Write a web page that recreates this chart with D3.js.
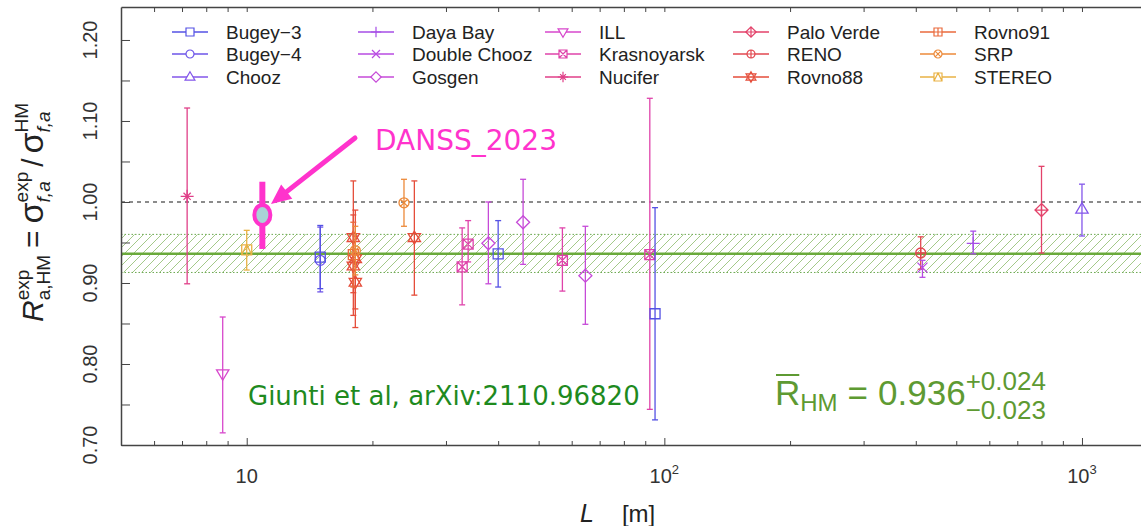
<!DOCTYPE html>
<html>
<head>
<meta charset="utf-8">
<script src="https://cdn.jsdelivr.net/npm/d3@7"></script>
<style>
  body { margin: 0; background: #fff; }
  svg { display: block; font-family: "Liberation Sans", Arial, sans-serif; }
</style>
</head>
<body>
<svg id="chart" width="1141" height="526"></svg>
<script>
// experiments, in legend order (3 rows x 5 columns)
const experiments = ["Bugey-3", "Bugey-4", "Chooz", "Daya Bay", "Double Chooz", "Gosgen", "ILL", "Krasnoyarsk",
	"Nucifer", "Palo Verde", "RENO", "Rovno88", "Rovno91", "SRP", "STEREO"];
const legendLabels = ["Bugey\u22123", "Bugey\u22124", "Chooz", "Daya Bay", "Double Chooz", "Gosgen", "ILL", "Krasnoyarsk",
	"Nucifer", "Palo Verde", "RENO", "Rovno88", "Rovno91", "SRP", "STEREO"];
const expColors = ["#5552e4", "#6d55e8", "#8356ea", "#a64ee6", "#b84be2", "#c64ad8", "#d747cc", "#df43aa",
	"#e03f88", "#e3426a", "#e2474f", "#e54d3a", "#ea6a3c", "#ec8a3a", "#e9b244"];
const expShapes = ["square", "circle", "triUp", "plus", "cross", "diamond", "triDown", "squareX",
	"asterisk", "diamondPlus", "circlePlus", "star", "squarePlus", "circleX", "squareTri"];

// measured points: experiment, baseline L [m], ratio, lower / upper end of error bar
const pointExp = ["Nucifer", "ILL", "STEREO", "Bugey-4", "Bugey-3", "Rovno88", "Rovno88", "Rovno88", "Rovno88",
	"Rovno91", "SRP", "SRP", "Rovno88", "Krasnoyarsk", "Krasnoyarsk", "Gosgen", "Bugey-3", "Gosgen",
	"Krasnoyarsk", "Gosgen", "Krasnoyarsk", "Bugey-3", "RENO", "Double Chooz", "Daya Bay", "Palo Verde", "Chooz"];
const pointL = [7.2, 8.76, 10.0, 15, 15, 18.0, 18.0, 18.2, 18.2,
	18.0, 18.2, 23.8, 25.2, 32.8, 33.9, 37.9, 40, 45.9,
	57, 64.7, 92.3, 95, 411, 415, 549, 800, 1000];
const pointR = [1.007, 0.788, 0.941, 0.928, 0.932, 0.956, 0.921, 0.901, 0.930,
	0.935, 0.940, 0.999, 0.956, 0.920, 0.948, 0.949, 0.936, 0.975,
	0.928, 0.909, 0.935, 0.862, 0.937, 0.919, 0.949, 0.990, 0.991];
const pointLo = [0.899, 0.715, 0.916, 0.889, 0.893, 0.888, 0.860, 0.845, 0.868,
	0.895, 0.910, 0.970, 0.885, 0.873, 0.926, 0.899, 0.895, 0.923,
	0.890, 0.849, 0.744, 0.731, 0.917, 0.907, 0.936, 0.937, 0.958];
const pointHi = [1.116, 0.858, 0.965, 0.969, 0.971, 1.026, 0.984, 0.958, 0.990,
	0.975, 0.970, 1.028, 1.026, 0.968, 0.977, 1.000, 0.977, 1.028,
	0.968, 0.970, 1.128, 0.993, 0.957, 0.928, 0.964, 1.044, 1.022];

// HM average and its band
const hmMean = 0.936;
const hmUp = 0.024;
const hmDown = 0.023;

// DANSS 2023 point added by hand on the slide
const danssL = 10.9;
const danssR = 0.984;
const danssLo = 0.942;
const danssHi = 1.025;

// ticks
const yTicks = d3.range(14).map(i => +(0.70 + i * 0.05).toFixed(2)).filter(v => v <= 1.2);
const yLabels = ["0.70", "0.80", "0.90", "1.00", "1.10", "1.20"];
const xMajor = [10, 100, 1000];
const xMajorExp = ["", "2", "3"];
const xMinor = [6, 7, 8, 9, 20, 30, 40, 50, 60, 70, 80, 90, 200, 300, 400, 500, 600, 700, 800, 900];

const svg = d3.select("#chart");

const x = d3.scaleLog().domain([5, 1400]).range([121, 1143]);
const y = d3.scaleLinear().domain([0.70, 1.2407]).range([445, 7]);
const color = d3.scaleOrdinal().domain(experiments).range(expColors);
const shape = d3.scaleOrdinal().domain(experiments).range(expShapes);

function markerPath(kind, r) {
	const h = r * 1.3;
	const sq = `M${-r},${-r}H${r}V${r}H${-r}Z`;
	const circ = `M${-r},0A${r},${r} 0 1,0 ${r},0A${r},${r} 0 1,0 ${-r},0Z`;
	const plus = `M${-r},0H${r}M0,${-r}V${r}`;
	const cross = `M${-r},${-r}L${r},${r}M${-r},${r}L${r},${-r}`;
	const k = r * 0.72;
	const crossIn = `M${-k},${-k}L${k},${k}M${-k},${k}L${k},${-k}`;
	const triUp = `M0,${-h}L${h * 0.95},${h * 0.6}L${-h * 0.95},${h * 0.6}Z`;
	const triDown = `M0,${h}L${h * 0.95},${-h * 0.6}L${-h * 0.95},${-h * 0.6}Z`;
	const dia = `M0,${-h}L${h},0L0,${h}L${-h},0Z`;
	switch (kind) {
		case "square": return sq;
		case "circle": return circ;
		case "triUp": return triUp;
		case "triDown": return triDown;
		case "plus": return `M${-h},0H${h}M0,${-h}V${h}`;
		case "cross": return cross;
		case "diamond": return dia;
		case "squareX": return sq + cross;
		case "asterisk": return `M${-h},0H${h}M0,${-h}V${h}` + crossIn;
		case "diamondPlus": return dia + `M${-h},0H${h}M0,${-h}V${h}`;
		case "circlePlus": return circ + plus;
		case "star": return triUp + triDown;
		case "squarePlus": return sq + plus;
		case "circleX": return circ + crossIn;
		case "squareTri": return sq + `M${-r},${r}L0,${-r}L${r},${r}`;
	}
	return sq;
}

// lay out a row of text pieces, with stacked super/subscripts
function mathRow(g, items, x0, base, fill) {
	let cx = x0;
	items.forEach(it => {
		cx += it.gap || 0;
		if (it.sup !== undefined) {
			let w = 0;
			[[it.sup, -it.up, it.supItalic], [it.sub, it.down, it.subItalic]].forEach(([t, dy, ital]) => {
				if (!t) return;
				const el = g.append("text").attr("x", cx).attr("y", base + dy)
					.attr("font-size", it.fs).attr("fill", fill)
					.attr("font-style", ital ? "italic" : "normal").text(t);
				w = Math.max(w, el.node().getComputedTextLength());
			});
			cx += w;
		} else {
			const el = g.append("text").attr("x", cx).attr("y", base + (it.dy || 0))
				.attr("font-size", it.fs).attr("fill", fill)
				.attr("font-style", it.italic ? "italic" : "normal").text(it.t);
			cx += el.node().getComputedTextLength();
		}
	});
	return cx;
}

// hatch pattern for the HM band
const defs = svg.append("defs");
const pat = defs.append("pattern").attr("id", "hatch").attr("patternUnits", "userSpaceOnUse")
	.attr("width", 9).attr("height", 9);
pat.append("path").attr("d", "M0,9L9,0M-2,2L2,-2M7,11L11,7")
	.attr("stroke", "#8dbb6b").attr("stroke-width", 0.8);

const band = svg.append("g");
band.append("rect")
	.attr("x", 121).attr("width", 1141 - 121)
	.attr("y", y(hmMean + hmUp)).attr("height", y(hmMean - hmDown) - y(hmMean + hmUp))
	.attr("fill", "url(#hatch)");
[hmMean + hmUp, hmMean - hmDown].forEach(v => {
	band.append("line").attr("x1", 121).attr("x2", 1141).attr("y1", y(v)).attr("y2", y(v))
		.attr("stroke", "#6aa84f").attr("stroke-width", 1).attr("stroke-dasharray", "1.5,2");
});
band.append("line").attr("x1", 121).attr("x2", 1141).attr("y1", y(hmMean)).attr("y2", y(hmMean))
	.attr("stroke", "#6aaa3a").attr("stroke-width", 2.5);
band.append("line").attr("x1", 121).attr("x2", 1141).attr("y1", y(1)).attr("y2", y(1))
	.attr("stroke", "#666").attr("stroke-width", 1.5).attr("stroke-dasharray", "4,4");

// axes
const axisStyle = g => {
	g.selectAll("path,line").attr("stroke", "#444");
	g.select(".domain").attr("stroke-width", 1.5);
};
svg.append("g").attr("transform", "translate(0,445)")
	.call(d3.axisBottom(x).tickValues(xMinor).tickSizeInner(-4).tickSizeOuter(0).tickFormat(""))
	.call(axisStyle);
svg.append("g").attr("transform", "translate(0,445)")
	.call(d3.axisBottom(x).tickValues(xMajor).tickSizeInner(-7).tickSizeOuter(0).tickFormat(""))
	.call(g => g.select(".domain").remove()).call(axisStyle);
svg.append("g").attr("transform", "translate(0,7)")
	.call(d3.axisTop(x).tickValues(xMinor.concat(xMajor)).tickSizeInner(-5).tickSizeOuter(0).tickFormat(""))
	.call(axisStyle);
svg.append("g").attr("transform", "translate(121,0)")
	.call(d3.axisLeft(y).tickValues(yTicks).tickSizeInner(-9).tickSizeOuter(0).tickFormat(""))
	.call(axisStyle);

// y tick labels, rotated like base R
svg.append("g").selectAll("text").data(yLabels).join("text")
	.attr("transform", d => `translate(97,${y(+d)}) rotate(-90)`)
	.attr("text-anchor", "middle").attr("font-size", 20).attr("fill", "#333")
	.text(d => d);

// x tick labels
xMajor.forEach((v, i) => {
	const g = svg.append("g");
	const t = g.append("text").attr("x", 0).attr("y", 483).attr("font-size", 20).attr("fill", "#333").text("10");
	let w = t.node().getComputedTextLength();
	if (xMajorExp[i]) {
		const s = g.append("text").attr("x", w).attr("y", 474).attr("font-size", 13).attr("fill", "#333").text(xMajorExp[i]);
		w += s.node().getComputedTextLength();
	}
	g.attr("transform", `translate(${x(v) - w / 2},0)`);
});

// axis titles
const xt = svg.append("g");
mathRow(xt, [{ t: "L", fs: 25, italic: true }, { t: "[m]", fs: 24, gap: 28 }], 580, 522, "#222");

const yt = svg.append("g").attr("transform", "translate(43,322) rotate(-90)");
mathRow(yt, [
	{ t: "R", fs: 30, italic: true },
	{ sup: "exp", sub: "a,HM", fs: 19, up: 14, down: 7, subItalic: false },
	{ t: "=", fs: 30, gap: 7 },
	{ t: "\u03c3", fs: 34, gap: 7 },
	{ sup: "exp", sub: "f,a", fs: 19, up: 15, down: 7, subItalic: true },
	{ t: "/", fs: 30, gap: 5 },
	{ t: "\u03c3", fs: 34, gap: 5 },
	{ sup: "HM", sub: "f,a", fs: 19, up: 15, down: 7, subItalic: true }
], 0, 0, "#222");

// error bars and markers
const pts = svg.append("g");
pointExp.forEach((e, i) => {
	const cx = x(pointL[i]);
	const c = color(e);
	pts.append("line").attr("x1", cx).attr("x2", cx).attr("y1", y(pointLo[i])).attr("y2", y(pointHi[i]))
		.attr("stroke", c).attr("stroke-width", 1.3);
	[pointLo[i], pointHi[i]].forEach(v => {
		pts.append("line").attr("x1", cx - 3).attr("x2", cx + 3).attr("y1", y(v)).attr("y2", y(v))
			.attr("stroke", c).attr("stroke-width", 1.3);
	});
	pts.append("path").attr("transform", `translate(${cx},${y(pointR[i])})`)
		.attr("d", markerPath(shape(e), 5)).attr("fill", "none")
		.attr("stroke", c).attr("stroke-width", 1.3);
});

// legend
const legX = [172, 358, 545, 733, 920];
const legY = [32, 54, 77];
const legend = svg.append("g");
experiments.forEach((e, i) => {
	const lx = legX[Math.floor(i / 3)];
	const ly = legY[i % 3];
	const c = color(e);
	legend.append("line").attr("x1", lx).attr("x2", lx + 36).attr("y1", ly).attr("y2", ly)
		.attr("stroke", c).attr("stroke-width", 1.3);
	legend.append("path").attr("transform", `translate(${lx + 18},${ly})`)
		.attr("d", markerPath(shape(e), 4)).attr("fill", "#fff")
		.attr("stroke", c).attr("stroke-width", 1.2);
	legend.append("text").attr("x", lx + 54).attr("y", ly + 7).attr("font-size", 19).attr("fill", "#222")
		.text(legendLabels[i]);
});

// R_HM formula
const fg = svg.append("g");
const green = "#5e9a32";
const rEnd = mathRow(fg, [{ t: "R", fs: 35 }], 775, 405, green);
fg.append("line").attr("x1", 776).attr("x2", rEnd - 1).attr("y1", 375).attr("y2", 375)
	.attr("stroke", green).attr("stroke-width", 2);
mathRow(fg, [
	{ t: "HM", fs: 24, dy: 6 },
	{ t: "=", fs: 35, gap: 10 },
	{ t: "0.936", fs: 35, gap: 10 },
	{ sup: "+0.024", sub: "\u22120.023", fs: 26, up: 15, down: 14 }
], rEnd, 405, green);

// annotations added on the slide
const handFont = "'Comic Sans MS', 'DejaVu Sans', sans-serif";
svg.append("text").attr("x", 248).attr("y", 405).attr("font-size", 26).attr("font-family", handFont)
	.attr("fill", "#1e8a1e").text("Giunti et al, arXiv:2110.96820");
svg.append("text").attr("x", 375).attr("y", 150).attr("font-size", 28).attr("font-family", handFont)
	.attr("fill", "#ff33cc").text("DANSS_2023");

const pink = "#ff33cc";
const dx = x(danssL);
svg.append("line").attr("x1", dx).attr("x2", dx).attr("y1", y(danssHi)).attr("y2", y(danssLo))
	.attr("stroke", pink).attr("stroke-width", 6);
svg.append("ellipse").attr("cx", dx).attr("cy", y(danssR)).attr("rx", 8).attr("ry", 10)
	.attr("fill", "#a9d3d6").attr("stroke", pink).attr("stroke-width", 4);

// arrow from the label to the point
const a0 = [355, 138], a1 = [271, 204];
const ang = Math.atan2(a1[1] - a0[1], a1[0] - a0[0]);
const headL = 20, headW = 9;
const bx = a1[0] - headL * Math.cos(ang), by = a1[1] - headL * Math.sin(ang);
svg.append("line").attr("x1", a0[0]).attr("y1", a0[1]).attr("x2", bx).attr("y2", by)
	.attr("stroke", pink).attr("stroke-width", 5).attr("stroke-linecap", "round");
svg.append("path")
	.attr("d", `M${a1[0]},${a1[1]}L${bx - headW * Math.sin(ang)},${by + headW * Math.cos(ang)}L${bx + headW * Math.sin(ang)},${by - headW * Math.cos(ang)}Z`)
	.attr("fill", pink);
</script>
</body>
</html>
